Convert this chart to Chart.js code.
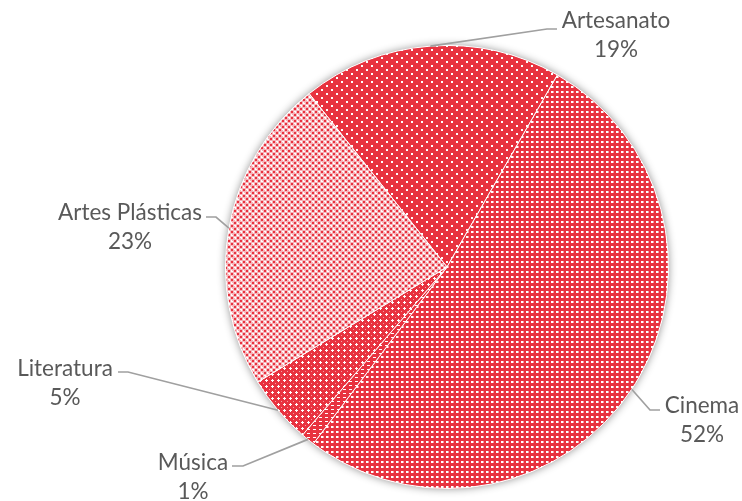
<!DOCTYPE html>
<html><head><meta charset="utf-8">
<script src="https://cdn.jsdelivr.net/npm/chart.js@4"></script>
<style>html,body{margin:0;padding:0;background:#fff}</style>
</head><body>
<canvas id="c" width="742" height="501"></canvas>
<script>
// ---- data ----
const categories = ['Artesanato', 'Cinema', 'Música', 'Literatura', 'Artes Plásticas'];
const values = [19, 52, 1, 5, 23];
const percentLabels = ['19%', '52%', '1%', '5%', '23%'];

// ---- label layout (text centre x, first-line y, elbow x, elbow y, line end x) ----
const labelLayout = [
  [616, 21, 547, 29, 557],
  [702, 406, 650, 410, 660],
  [193, 463, 243, 466, 232],
  [65, 369, 128, 372, 118],
  [130, 213, 216, 217, 206]
];

const RED = '#E8323F';
const WHITE = '#FFFFFF';
const PINK = '#F3A0A7';

function makePattern(w, h, bg, draw) {
  const c = document.createElement('canvas');
  c.width = w; c.height = h;
  const x = c.getContext('2d');
  x.fillStyle = bg; x.fillRect(0, 0, w, h);
  draw(x);
  return x.createPattern(c, 'repeat');
}
const patterns = [
  makePattern(10, 8, RED, x => { x.fillStyle = WHITE; x.fillRect(1, 1, 2, 2); x.fillRect(6, 5, 2, 2); }),
  makePattern(5, 5, RED, x => { x.fillStyle = WHITE; x.fillRect(1, 1, 2, 2); x.fillStyle = PINK; x.fillRect(3, 1, 1, 2); }),
  makePattern(6, 4, RED, x => { x.fillStyle = WHITE; x.fillRect(1, 1, 3, 1); }),
  makePattern(6, 6, RED, x => { x.fillStyle = WHITE; x.fillRect(2, 1, 1, 3); x.fillRect(1, 2, 3, 1); x.fillStyle = PINK; x.fillRect(5, 5, 1, 1); }),
  makePattern(6, 6, '#F6B4BA', x => { x.fillStyle = RED; x.fillRect(0, 0, 2, 2); x.fillRect(3, 3, 2, 2); x.fillStyle = WHITE; x.fillRect(4, 1, 1, 1); x.fillRect(1, 4, 1, 1); x.fillRect(3, 0, 1, 2); x.fillRect(0, 3, 2, 1); })
];

const shadowPlugin = {
  id: 'pieShadow',
  beforeDatasetsDraw(chart) {
    const arc = chart.getDatasetMeta(0).data[0];
    if (!arc) return;
    const {x, y, outerRadius} = arc.getProps(['x', 'y', 'outerRadius'], true);
    const ctx = chart.ctx;
    ctx.save();
    ctx.shadowColor = 'rgba(0,0,0,0.45)';
    ctx.shadowBlur = 9;
    ctx.beginPath();
    ctx.arc(x, y, outerRadius, 0, Math.PI * 2);
    ctx.fillStyle = '#ffffff';
    ctx.fill();
    ctx.restore();
  }
};

const labelPlugin = {
  id: 'outerLabels',
  afterDatasetsDraw(chart) {
    const ctx = chart.ctx;
    const meta = chart.getDatasetMeta(0);
    ctx.save();
    meta.data.forEach((arc, i) => {
      const p = arc.getProps(['x', 'y', 'startAngle', 'endAngle', 'outerRadius'], true);
      const mid = (p.startAngle + p.endAngle) / 2;
      const sx = p.x + Math.cos(mid) * p.outerRadius;
      const sy = p.y + Math.sin(mid) * p.outerRadius;
      const [tx, ty, ex, ey, endX] = labelLayout[i];
      ctx.strokeStyle = '#A0A0A0';
      ctx.lineWidth = 1.7;
      ctx.beginPath();
      ctx.moveTo(sx, sy);
      ctx.lineTo(ex, ey);
      ctx.lineTo(endX, ey);
      ctx.stroke();
      ctx.fillStyle = '#595959';
      ctx.font = '22.5px Lato, "Open Sans", sans-serif';
      ctx.textAlign = 'center';
      ctx.textBaseline = 'middle';
      ctx.fillText(categories[i], tx, ty);
      ctx.fillText(percentLabels[i], tx, ty + 29);
    });
    ctx.restore();
  }
};

new Chart(document.getElementById('c'), {
  type: 'pie',
  data: {
    labels: categories,
    datasets: [{
      data: values,
      backgroundColor: patterns,
      borderColor: '#ffffff',
      borderWidth: 1,
      hoverOffset: 0,
      offset: 0
    }]
  },
  options: {
    responsive: false,
    animation: false,
    rotation: -38.5,
    layout: {padding: {left: 225, right: 73, top: 45, bottom: 12}},
    plugins: {
      legend: {display: false},
      tooltip: {enabled: false},
      title: {display: false}
    },
    events: []
  },
  plugins: [shadowPlugin, labelPlugin]
});
</script>
</body></html>
